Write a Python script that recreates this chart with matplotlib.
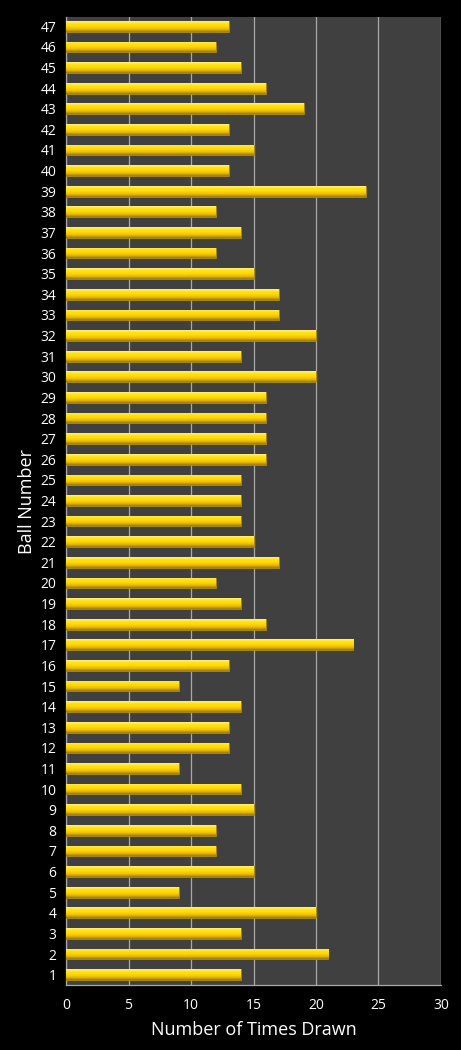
import matplotlib
matplotlib.use('Agg')
import matplotlib.pyplot as plt
import numpy as np
from matplotlib.colors import LinearSegmentedColormap

# ball numbers and how often each was drawn
balls = list(range(1, 48))
times_drawn = [14, 21, 14, 20, 9, 15, 12, 12, 15, 14,
               9, 13, 13, 14, 9, 13, 23, 16, 14, 12,
               17, 15, 14, 14, 14, 16, 16, 16, 16, 20,
               14, 20, 17, 17, 15, 12, 14, 12, 24, 13,
               15, 13, 19, 16, 14, 12, 13]
x_ticks = [0, 5, 10, 15, 20, 25, 30]

plt.rcParams['font.family'] = ['Open Sans', 'DejaVu Sans']

fig = plt.figure(figsize=(4.61, 10.5), dpi=100, facecolor='black')
ax = fig.add_axes([0.1432, 0.0619, 0.8134, 0.9219])
ax.set_facecolor('#404040')

bars = ax.barh(balls, times_drawn, height=0.52, color='#FFD400',
               edgecolor='#A88400', linewidth=0.6, zorder=3)

# vertical gradient for the glossy look
cmap = LinearSegmentedColormap.from_list(
    'gold', [(0.0, '#9C7800'), (0.25, '#E8B800'), (0.5, '#FFD800'),
             (0.8, '#FFE420'), (1.0, '#FFF080')])
grad = np.linspace(0, 1, 64).reshape(-1, 1)
for b in bars:
    x0, y0 = b.get_x(), b.get_y()
    w, h = b.get_width(), b.get_height()
    im = ax.imshow(grad, cmap=cmap, aspect='auto', origin='lower',
                   extent=[x0, x0 + w, y0, y0 + h], zorder=3.5)
    im.set_clip_path(b)

ax.set_xlim(0, 30)
ax.set_ylim(0.5, 47.45)
ax.set_xticks(x_ticks)
ax.set_yticks(balls)
ax.xaxis.grid(True, color='#A8A8A8', linewidth=0.9, zorder=1)
ax.set_axisbelow(True)

for s in ['top', 'right']:
    ax.spines[s].set_visible(False)
for s in ['left', 'bottom']:
    ax.spines[s].set_color('#A8A8A8')
    ax.spines[s].set_linewidth(0.9)

ax.tick_params(axis='both', colors='white', labelsize=10, length=0, pad=7)
ax.tick_params(axis='x', pad=9)

ax.set_xlabel('Number of Times Drawn', color='white', fontsize=13, labelpad=6)
ax.set_ylabel('Ball Number', color='white', fontsize=13, labelpad=3)

fig.savefig('out.png', dpi=100, facecolor='black')
